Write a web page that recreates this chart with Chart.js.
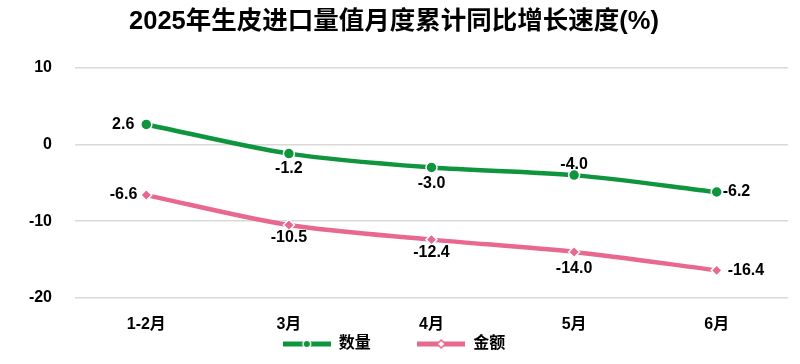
<!DOCTYPE html>
<html>
<head>
<meta charset="utf-8">
<script src="https://cdn.jsdelivr.net/npm/chart.js@4.4.1/dist/chart.umd.min.js"></script>
<style>
html, body { margin: 0; padding: 0; background: #fff; }
#wrap { width: 800px; height: 364px; }
</style>
</head>
<body>
<div id="wrap"><canvas id="myChart"></canvas></div>
<script>
const months = ['1-2月', '3月', '4月', '5月', '6月'];
const quantity = [2.6, -1.2, -3.0, -4.0, -6.2];
const amount = [-6.6, -10.5, -12.4, -14.0, -16.4];
const seriesNames = ['数量', '金额'];
const yTicks = [10, 0, -10, -20];

const green = '#10953f';
const pink = '#e8688f';
const font = "'Liberation Sans', 'Noto Sans CJK SC', sans-serif";

// where each value label sits relative to its point: [align, dx, dy]
const labelPlace = [
    [['right', -12, 0], ['center', 0, 15], ['center', 0, 16], ['center', 0, -11], ['left', 6, 0]],
    [['right', -9, 0], ['center', 0, 13], ['center', 0, 13], ['center', 0, 17], ['left', 11, 0]]
];

function legendIcon(color, style) {
    const c = document.createElement('canvas');
    c.width = 48; c.height = 10;
    const g = c.getContext('2d');
    g.strokeStyle = color;
    g.lineWidth = 5;
    g.beginPath(); g.moveTo(0, 5); g.lineTo(48, 5); g.stroke();
    g.fillStyle = style === 'circle' ? color : '#fff';
    g.strokeStyle = style === 'circle' ? '#fff' : color;
    g.lineWidth = 1.5;
    g.beginPath();
    if (style === 'circle') {
        g.arc(24, 5, 3.8, 0, Math.PI * 2);
    } else {
        g.moveTo(24, 1); g.lineTo(28, 5); g.lineTo(24, 9); g.lineTo(20, 5); g.closePath();
    }
    g.fill(); g.stroke();
    return c;
}

const valueLabels = {
    id: 'valueLabels',
    afterDatasetsDraw(chart) {
        const ctx = chart.ctx;
        ctx.save();
        ctx.font = 'bold 16px ' + font;
        ctx.fillStyle = '#000';
        ctx.textBaseline = 'middle';
        chart.data.datasets.forEach((ds, i) => {
            chart.getDatasetMeta(i).data.forEach((pt, j) => {
                const [align, dx, dy] = labelPlace[i][j];
                ctx.textAlign = align;
                ctx.fillText(ds.data[j].toFixed(1), pt.x + dx, pt.y + dy);
            });
        });
        ctx.restore();
    }
};

const ctx = document.getElementById('myChart');

new Chart(ctx, {
    type: 'line',
    data: {
        labels: months,
        datasets: [{
            label: seriesNames[0],
            data: quantity,
            borderColor: green,
            backgroundColor: green,
            borderWidth: 4.5,
            tension: 0.3,
            pointStyle: 'circle',
            pointRadius: 5.5,
            pointBorderColor: '#fff',
            pointBorderWidth: 1.5,
            pointBackgroundColor: green
        }, {
            label: seriesNames[1],
            data: amount,
            borderColor: pink,
            backgroundColor: pink,
            borderWidth: 4.5,
            tension: 0.3,
            pointStyle: 'rectRot',
            pointRadius: 5.5,
            pointBorderColor: '#fff',
            pointBorderWidth: 1.5,
            pointBackgroundColor: pink
        }]
    },
    options: {
        responsive: true,
        maintainAspectRatio: false,
        animation: false,
        layout: { padding: { left: 0, right: 12, top: 0, bottom: 2 } },
        plugins: {
            title: {
                display: true,
                text: '2025年生皮进口量值月度累计同比增长速度(%)',
                color: '#000',
                font: { family: font, size: 25.5, weight: 'bold' },
                padding: { top: 7, bottom: 30 }
            },
            legend: {
                position: 'bottom',
                labels: {
                    usePointStyle: true,
                    pointStyleWidth: 48,
                    padding: 2,
                    color: '#000',
                    font: { family: font, size: 16, weight: 'bold' },
                    generateLabels(chart) {
                        return chart.data.datasets.map((ds, i) => ({
                            text: i === 0 ? ds.label + '          ' : ds.label,
                            pointStyle: legendIcon(ds.borderColor, ds.pointStyle),
                            fillStyle: ds.borderColor,
                            strokeStyle: ds.borderColor,
                            lineWidth: 0,
                            fontColor: '#000',
                            datasetIndex: i
                        }));
                    }
                }
            },
            tooltip: { enabled: false }
        },
        scales: {
            x: {
                offset: true,
                grid: { display: false, drawTicks: false },
                border: { display: false },
                ticks: { color: '#000', padding: 17, font: { family: font, size: 16, weight: 'bold' } },
                afterFit(s) { s.height = 36; }
            },
            y: {
                min: -20,
                max: 10,
                grid: { color: '#d9d9d9', lineWidth: 1.5, drawTicks: false },
                border: { display: false },
                afterBuildTicks(s) { s.ticks = yTicks.map(v => ({ value: v })); },
                ticks: { color: '#000', padding: 23, font: { family: font, size: 16, weight: 'bold' } },
                afterFit(s) { s.width = 75; }
            }
        }
    },
    plugins: [valueLabels]
});
</script>
</body>
</html>
